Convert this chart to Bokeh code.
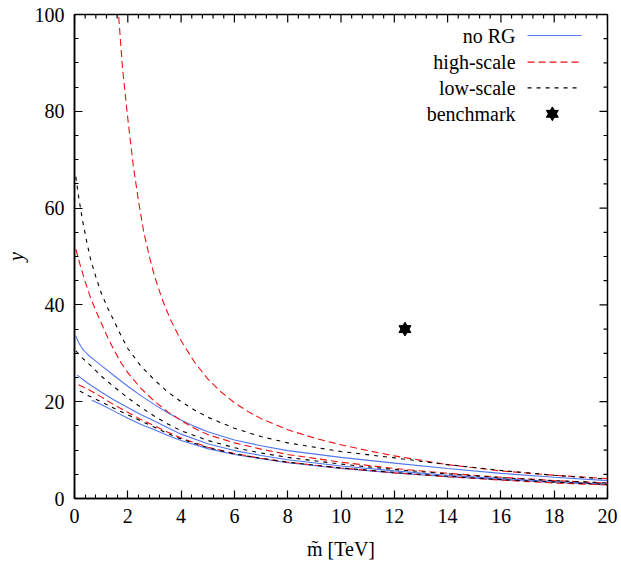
from bokeh.plotting import figure
from bokeh.models import Range1d, Label, SingleIntervalTicker
from bokeh.embed import file_html
from bokeh.resources import INLINE

# ---- data ----
# no RG (blue solid)
x_nr1 = [0.05, 0.15, 0.3, 0.5, 0.75, 1.0, 1.5, 2.0, 2.5, 3.0, 3.5, 4.0, 4.5, 5.0, 6.0, 7.0, 8.0, 10, 12, 14, 16, 18, 20]
y_nr1 = [33.6, 32.3, 30.9, 29.7, 28.6, 27.5, 25.3, 23.2, 21.2, 19.4, 17.7, 16.2, 14.9, 13.8, 12.1, 10.9, 9.9, 8.5, 7.3, 6.2, 5.2, 4.4, 3.7]
x_nr2 = [0.1, 0.5, 1.0, 1.5, 2.0, 2.5, 3.0, 3.5, 4.0, 5.0, 6.0, 7.0, 8.0, 10, 12, 14, 16, 18, 20]
y_nr2 = [25.5, 23.8, 22.0, 20.3, 18.8, 17.3, 16.0, 14.6, 13.3, 11.3, 9.9, 8.9, 8.0, 6.7, 5.7, 4.8, 4.1, 3.5, 3.0]
x_nr3 = [0.65, 1.0, 1.5, 2.0, 2.5, 3.0, 3.5, 4.0, 5.0, 6.0, 7.0, 8.0, 10, 12, 14, 16, 18, 20]
y_nr3 = [20.3, 19.4, 18.0, 16.6, 15.3, 14.2, 13.0, 12.0, 10.3, 9.1, 8.2, 7.4, 6.2, 5.3, 4.5, 3.9, 3.3, 2.9]

# high-scale (red dashed)
x_hs1 = [1.6, 1.8, 2.0, 2.2, 2.4, 2.6, 2.8, 3.0, 3.3, 3.6, 4.0, 4.5, 5.0, 5.5, 6.0, 6.5, 7.0, 8.0, 9.0, 10, 11, 12, 14, 16, 18, 20]
y_hs1 = [104, 89, 78.5, 69, 61.5, 55, 50.2, 46, 41, 37, 32.6, 28.2, 24.7, 22, 19.8, 18.0, 16.5, 14.2, 12.5, 11.1, 9.9, 8.8, 7.0, 5.7, 4.8, 4.1]
x_hs2 = [0.05, 0.2, 0.4, 0.6, 0.8, 1.0, 1.25, 1.5, 1.75, 2.0, 2.5, 3.0, 3.5, 4.0, 4.5, 5.0, 6.0, 7.0, 8.0, 10, 12, 14, 16, 18, 20]
y_hs2 = [51.5, 48.5, 44.8, 41.5, 38.8, 36.3, 33.2, 30.5, 28.0, 26.0, 22.7, 20.1, 17.9, 16.1, 14.5, 13.2, 11.5, 10.2, 9.1, 7.5, 6.2, 5.2, 4.4, 3.7, 3.2]
x_hs3 = [0.15, 0.5, 1.0, 1.5, 2.0, 2.5, 3.0, 3.5, 4.0, 5.0, 6.0, 7.0, 8.0, 10, 12, 14, 16, 18, 20]
y_hs3 = [23.5, 22.6, 21.0, 19.3, 17.8, 16.3, 15.0, 13.7, 12.5, 10.6, 9.3, 8.3, 7.5, 6.3, 5.3, 4.5, 3.8, 3.2, 2.8]

# low-scale (black dotted)
x_ls1 = [0.05, 0.15, 0.3, 0.45, 0.6, 0.8, 1.0, 1.25, 1.5, 1.75, 2.0, 2.5, 3.0, 3.5, 4.0, 4.5, 5.0, 6.0, 7.0, 8.0, 10, 12, 14, 16, 18, 20]
y_ls1 = [66.5, 62.5, 57.5, 53.3, 49.5, 45.8, 42.5, 39.3, 36.5, 33.6, 31.0, 27.3, 24.5, 22.0, 20.0, 18.3, 16.8, 14.5, 12.8, 11.5, 9.7, 8.4, 7.0, 5.8, 4.8, 4.0]
x_ls2 = [0.05, 0.3, 0.6, 1.0, 1.5, 2.0, 2.5, 3.0, 3.5, 4.0, 5.0, 6.0, 7.0, 8.0, 10, 12, 14, 16, 18, 20]
y_ls2 = [30.5, 29.0, 27.5, 25.3, 23.0, 20.8, 18.8, 17.0, 15.4, 14.0, 12.0, 10.5, 9.4, 8.5, 7.1, 6.0, 5.1, 4.3, 3.7, 3.2]
x_ls3 = [0.2, 0.5, 1.0, 1.5, 2.0, 2.5, 3.0, 3.5, 4.0, 5.0, 6.0, 7.0, 8.0, 10, 12, 14, 16, 18, 20]
y_ls3 = [22.2, 21.3, 20.0, 18.6, 17.3, 16.0, 14.7, 13.4, 12.3, 10.5, 9.2, 8.3, 7.5, 6.3, 5.4, 4.6, 3.9, 3.4, 2.9]

# benchmark point
bench_x = [12.4]
bench_y = [35.0]

legend_labels = ["no RG", "high-scale", "low-scale", "benchmark"]
x_label = "m\u0303 [TeV]"
y_label = "y"

# ---- styles ----
FONT = "Liberation Serif"
FS = "20px"
BLUE = "#5277ee"
RED = "#f01010"
BLACK = "#000000"
RED_DASH = "7 4"
BLK_DASH = "4 5"
STAR = 12
X0, X1, Y0, Y1 = 0, 20, 0, 100
FW, FH = 533, 484

p = figure(frame_width=FW, frame_height=FH,
           min_border_left=74, min_border_right=14, min_border_top=14, min_border_bottom=68,
           x_range=Range1d(X0, X1), y_range=Range1d(Y0, Y1),
           output_backend="svg", toolbar_location=None)
p.background_fill_color = "white"
p.border_fill_color = "white"
p.xgrid.visible = False
p.ygrid.visible = False
p.outline_line_color = "black"
p.outline_line_width = 1.5

X_MAJOR, X_NMINOR = 2, 5
Y_MAJOR, Y_NMINOR = 20, 4
p.xaxis.ticker = SingleIntervalTicker(interval=X_MAJOR, num_minor_ticks=X_NMINOR)
p.yaxis.ticker = SingleIntervalTicker(interval=Y_MAJOR, num_minor_ticks=Y_NMINOR)
for ax in (p.xaxis[0], p.yaxis[0]):
    ax.axis_line_width = 1.5
    ax.major_tick_in = 8
    ax.major_tick_out = 0
    ax.minor_tick_in = 4
    ax.minor_tick_out = 0
    ax.major_tick_line_width = 1.2
    ax.minor_tick_line_width = 1
    ax.major_label_text_font = FONT
    ax.major_label_text_font_size = FS
    ax.major_label_text_color = "black"
    ax.axis_label_text_font = FONT
    ax.axis_label_text_font_size = FS
    ax.axis_label_text_color = "black"
p.xaxis.major_label_standoff = 10
p.yaxis.major_label_standoff = 10
p.xaxis.axis_label = x_label
p.xaxis.axis_label_text_font_style = "normal"
p.xaxis.axis_label_standoff = 12
p.yaxis.axis_label = y_label
p.yaxis.axis_label_text_font_style = "italic"
p.yaxis.axis_label_standoff = 5

# ---- mirrored ticks on the top and right edges of the frame ----
px_x = (X1 - X0) / FW
px_y = (Y1 - Y0) / FH
x_step = X_MAJOR / X_NMINOR
y_step = Y_MAJOR / Y_NMINOR
tx = [X0 + i * x_step for i in range(int(round((X1 - X0) / x_step)) + 1)]
ty = [Y0 + i * y_step for i in range(int(round((Y1 - Y0) / y_step)) + 1)]
tx_len = [(8 if i % X_NMINOR == 0 else 4) * px_y for i in range(len(tx))]
ty_len = [(8 if i % Y_NMINOR == 0 else 4) * px_x for i in range(len(ty))]
p.segment(x0=tx, y0=[Y1] * len(tx), x1=tx, y1=[Y1 - l for l in tx_len], line_color="black", line_width=1.2)
p.segment(x0=[X1] * len(ty), y0=ty, x1=[X1 - l for l in ty_len], y1=ty, line_color="black", line_width=1.2)

# ---- curves ----
for xs, ys in [(x_nr1, y_nr1), (x_nr2, y_nr2), (x_nr3, y_nr3)]:
    p.line(xs, ys, line_color=BLUE, line_width=1.1)
for xs, ys in [(x_hs1, y_hs1), (x_hs2, y_hs2), (x_hs3, y_hs3)]:
    p.line(xs, ys, line_color=RED, line_width=1.1, line_dash=RED_DASH)
for xs, ys in [(x_ls1, y_ls1), (x_ls2, y_ls2), (x_ls3, y_ls3)]:
    p.line(xs, ys, line_color=BLACK, line_width=1.1, line_dash=BLK_DASH)

p.scatter(bench_x, bench_y, marker="triangle", size=STAR, color="black")
p.scatter(bench_x, bench_y, marker="inverted_triangle", size=STAR, color="black")

# ---- key (text right-aligned, sample on the right), gnuplot style ----
key_rows_y = [95.66, 90.15, 84.85, 79.48]
key_text_x = 16.55
key_x0, key_x1 = 17.0, 19.02
key_star_x = 17.93
for lab, ky in zip(legend_labels, key_rows_y):
    p.add_layout(Label(x=key_text_x, y=ky, text=lab, text_align="right", text_baseline="middle",
                       text_font=FONT, text_font_size=FS, text_color="black"))
p.line([key_x0, key_x1], [key_rows_y[0]] * 2, line_color=BLUE, line_width=1.1)
p.line([key_x0, key_x1], [key_rows_y[1]] * 2, line_color=RED, line_width=1.1, line_dash=RED_DASH)
p.line([key_x0, key_x1], [key_rows_y[2]] * 2, line_color=BLACK, line_width=1.1, line_dash=BLK_DASH)
p.scatter([key_star_x], [key_rows_y[3]], marker="triangle", size=STAR, color="black")
p.scatter([key_star_x], [key_rows_y[3]], marker="inverted_triangle", size=STAR, color="black")

open("out.html", "w").write(file_html(p, INLINE))
